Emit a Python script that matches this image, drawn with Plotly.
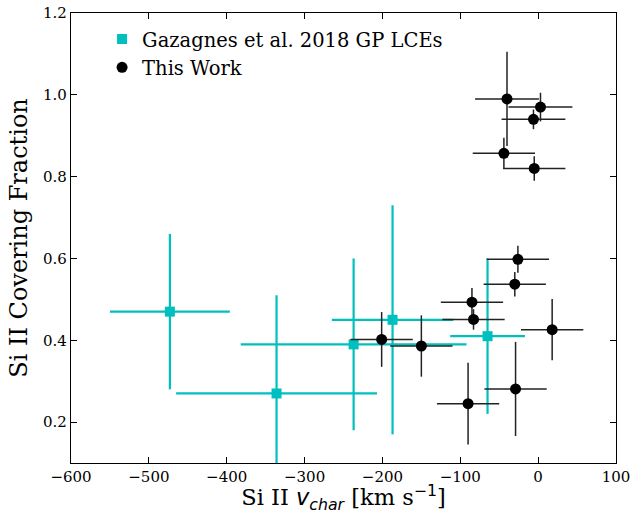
import plotly.graph_objects as go

# Gazagnes et al. 2018 GP LCEs
gaz_v = [-473, -336, -237, -187, -65]
gaz_v_err = [77, 129, 145, 78, 48]
gaz_cf = [0.47, 0.27, 0.39, 0.45, 0.41]
gaz_cf_err = [0.19, 0.24, 0.21, 0.28, 0.19]

# This Work
tw_v = [-40, 3, -6, -44, -5, -26, -30, -85, -83, 18, -150, -201, -29, -90]
tw_v_err = [41, 41, 41, 40, 40, 40, 40, 40, 40, 40, 40, 40, 40, 40]
tw_cf = [0.99, 0.97, 0.94, 0.857, 0.82, 0.598, 0.537, 0.493, 0.451, 0.426, 0.386, 0.402, 0.281, 0.245]
tw_cf_err = [0.115, 0.035, 0.024, 0.038, 0.03, 0.033, 0.03, 0.035, 0.025, 0.075, 0.075, 0.067, 0.115, 0.1]

x_ticks = [-600, -500, -400, -300, -200, -100, 0, 100]
x_tick_labels = ["\u2212600", "\u2212500", "\u2212400", "\u2212300", "\u2212200", "\u2212100", "0", "100"]
y_ticks = [0.2, 0.4, 0.6, 0.8, 1.0, 1.2]
y_tick_labels = ["0.2", "0.4", "0.6", "0.8", "1.0", "1.2"]

CYAN = "#00BFBF"
SERIF = "DejaVu Serif"

fig = go.Figure()
fig.add_trace(go.Scatter(
    x=gaz_v, y=gaz_cf, mode="markers", name="Gazagnes et al. 2018 GP LCEs",
    marker=dict(symbol="square", size=10, color=CYAN),
    error_x=dict(type="data", array=gaz_v_err, color=CYAN, thickness=2.2, width=0),
    error_y=dict(type="data", array=gaz_cf_err, color=CYAN, thickness=2.2, width=0),
))
fig.add_trace(go.Scatter(
    x=tw_v, y=tw_cf, mode="markers", name="This Work",
    marker=dict(symbol="circle", size=11, color="black"),
    error_x=dict(type="data", array=tw_v_err, color="#222222", thickness=1.5, width=0),
    error_y=dict(type="data", array=tw_cf_err, color="#222222", thickness=1.5, width=0),
))

axis_common = dict(
    showgrid=False, zeroline=False, showline=True, linecolor="black", linewidth=1.2,
    mirror="ticks", ticks="inside", ticklen=6, tickwidth=1.2, tickcolor="black",
    tickfont=dict(family=SERIF, size=15, color="black"), automargin=False,
)

fig.update_layout(
    width=632, height=514,
    margin=dict(l=71, r=16, t=13, b=51),
    paper_bgcolor="white", plot_bgcolor="white",
    font=dict(family=SERIF, color="black"),
    xaxis=dict(range=[-600, 100], tickvals=x_ticks, ticktext=x_tick_labels,
               title=dict(text="Si II <span style='font-family:DejaVu Sans'><i>v</i><sub><i>char</i></sub></span> [km s<sup><span style='font-family:DejaVu Sans'>\u22121</span></sup>]",
                          font=dict(family=SERIF, size=22.5), standoff=5),
               **axis_common),
    yaxis=dict(range=[0.1, 1.2], tickvals=y_ticks, ticktext=y_tick_labels,
               title=dict(text="Si II Covering Fraction", font=dict(family=SERIF, size=24), standoff=8),
               **axis_common),
    legend=dict(x=0.057, y=0.985, xanchor="left", yanchor="top", bgcolor="rgba(0,0,0,0)",
                font=dict(family=SERIF, size=19.5), traceorder="normal"),
    showlegend=True,
)

fig.write_html("out.html", config={"displayModeBar": False},
               post_script="document.body.style.margin='0';document.body.style.overflow='hidden';")
